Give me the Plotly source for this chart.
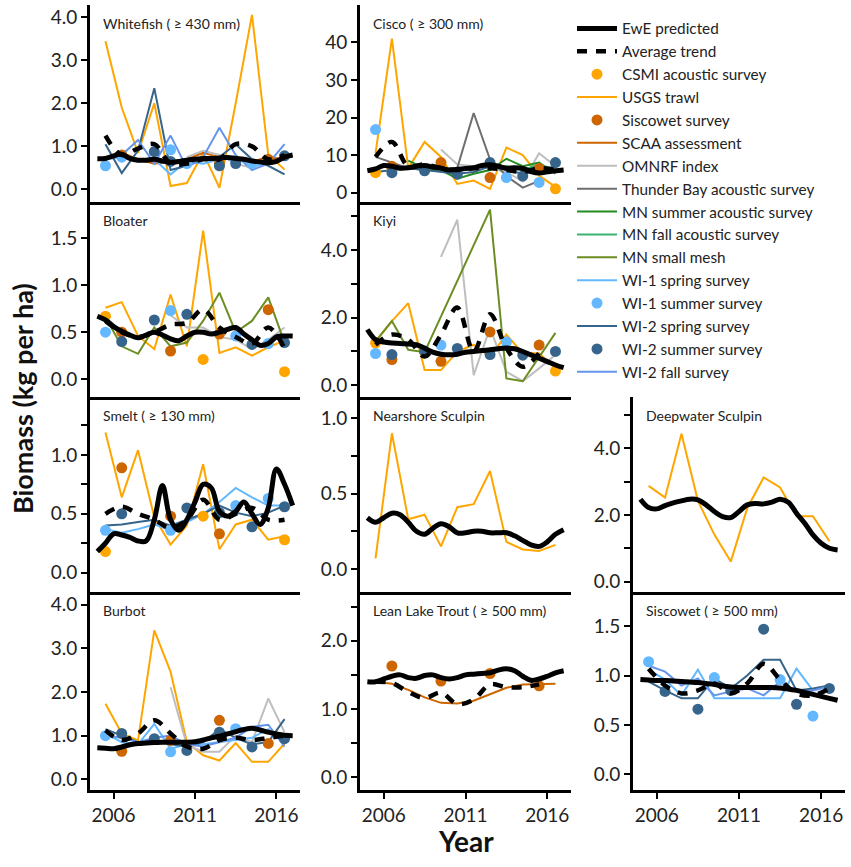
import plotly.graph_objects as go

# survey years (points drawn at mid-year) and EwE half-year time steps
survey_years = [2005, 2006, 2007, 2008, 2009, 2010, 2011, 2012, 2013, 2014, 2015, 2016]
ewe_years = [2005.0, 2005.5, 2006.0, 2006.5, 2007.0, 2007.5, 2008.0, 2008.5, 2009.0,
             2009.5, 2010.0, 2010.5, 2011.0, 2011.5, 2012.0, 2012.5, 2013.0, 2013.5,
             2014.0, 2014.5, 2015.0, 2015.5, 2016.0, 2016.5, 2017.0]
year_ticks = [2006, 2011, 2016]

# Whitefish
wf_usgs = [3.44, 1.9, 0.85, 2.0, 0.08, 0.15, 0.85, 0.04, 2.0, 4.05, 0.81, 0.46]
wf_scaa = [0.7, 0.85, 0.7, 0.6, 0.65, 0.7, 0.85, 0.75, 0.7, 0.65, 0.75, 0.7]
wf_omnrf = [None, None, None, None, None, 0.75, 0.9, 0.8, 0.6, 0.5, 0.65, None]
wf_wi1_spring = [0.7, 0.75, 0.65, 0.7, 0.35, 0.65, 0.6, 0.7, 0.75, 0.55, 0.6, 0.75]
wf_wi2_spring = [1.05, 0.38, 0.9, 2.35, 0.45, 0.55, 0.7, 0.75, 1.05, 0.7, 0.55, 0.35]
wf_wi2_fall = [0.7, 0.8, 1.15, 0.6, 1.25, 0.5, 0.75, 1.43, 0.8, 0.45, 0.6, 1.05]
wf_siscowet = [None, 0.8, None, None, None, None, None, 0.6, None, None, 0.7, None]
wf_wi1_summer = [0.55, 0.75, None, None, 0.92, 0.6, None, None, 0.65, 0.6, None, None]
wf_wi2_summer = [None, None, None, 0.88, 0.65, None, None, 0.55, 0.6, None, None, 0.78]
wf_avg = [1.25, 0.8, 0.95, 1.05, 0.6, 0.6, 0.7, 0.7, 1.05, 1.0, 0.7, 0.8]
wf_ewe = [0.71, 0.72, 0.78, 0.82, 0.72, 0.68, 0.68, 0.70, 0.66, 0.63, 0.65, 0.68, 0.70,
          0.72, 0.72, 0.73, 0.74, 0.72, 0.70, 0.66, 0.64, 0.62, 0.65, 0.75, 0.80]

# Cisco
ci_usgs = [10.5, 41, 6.5, 13.5, 9.5, 2.3, 3.2, 1.0, 12, 10, 4.5, 1.5]
ci_omnrf = [None, None, None, None, 11.5, 7.5, 7.0, 6.5, 5.5, 3.0, 10.5, 7.0]
ci_thunder = [9.5, 8.0, 6.5, 6.0, 6.0, 6.6, 21.2, 8.8, 4.4, 1.3, 3.1, None]
ci_mn_summer = [None, None, 8.5, 6.5, 6.0, 3.7, 5.0, 6.0, 9.0, 7.0, 8.0, 5.0]
ci_mn_fall = [None, None, None, None, None, None, 6.5, 7.5, 7.0, 6.0, 7.5, 6.0]
ci_wi2_spring = [5.5, 6.0, 6.5, 6.0, 5.5, 5.0, 5.5, 7.0, 6.0, 5.0, 6.0, 7.0]
ci_csmi = [5.3, 6.5, None, None, None, None, None, None, None, None, None, 1.0]
ci_siscowet = [None, 7.0, None, None, 8.0, None, None, 4.0, None, None, 6.4, None]
ci_wi1_summer = [16.8, None, None, None, None, None, None, None, 4.0, None, 2.7, None]
ci_wi2_summer = [None, 5.3, None, 5.8, None, 4.9, None, 8.0, None, 4.4, None, 8.0]
ci_avg = [9.5, 13.5, 7.0, 7.5, 6.5, 6.0, 6.5, 6.5, 6.0, 5.5, 6.5, 6.0]
ci_ewe = [5.8, 6.3, 7.2, 7.0, 6.5, 6.6, 7.0, 7.2, 6.8, 6.5, 6.0, 6.2, 6.4, 6.6, 7.2,
          7.4, 7.0, 6.5, 6.6, 6.4, 5.6, 5.2, 5.5, 5.8, 6.0]

# Bloater
bl_usgs = [0.76, 0.82, 0.46, 0.32, 0.9, 0.35, 1.58, 0.28, 0.34, 0.25, 0.34, 0.41]
bl_omnrf = [None, None, None, None, 0.68, 0.55, 0.55, 0.45, 0.42, 0.32, 0.42, 0.55]
bl_mn_mesh = [0.66, 0.35, 0.27, 0.55, 0.35, 0.39, 0.62, 0.92, 0.5, 0.62, 0.87, 0.39]
bl_csmi = [0.67, None, None, None, None, None, 0.21, None, None, None, None, 0.08]
bl_siscowet = [None, 0.5, None, None, 0.3, None, None, 0.48, None, None, 0.74, None]
bl_wi1_summer = [0.5, None, None, None, 0.73, None, None, None, 0.46, None, 0.38, None]
bl_wi2_summer = [None, 0.4, None, 0.63, None, 0.69, None, None, None, 0.37, None, 0.39]
bl_avg = [0.62, 0.5, 0.45, 0.5, 0.58, 0.6, 0.74, 0.55, 0.45, 0.38, 0.55, 0.33]
bl_ewe = [0.67, 0.63, 0.56, 0.51, 0.47, 0.44, 0.47, 0.50, 0.47, 0.43, 0.41, 0.46, 0.50,
          0.50, 0.48, 0.50, 0.53, 0.55, 0.48, 0.42, 0.36, 0.38, 0.45, 0.46, 0.46]

# Kiyi
ki_usgs = [1.3, 1.9, 2.43, 0.45, 0.45, 1.0, 1.2, 0.85, 1.5, 0.95, 0.95, 0.5]
ki_omnrf = [None, None, None, None, 3.8, 4.9, 0.3, 1.7, 0.4, 0.12, 0.5, 0.9]
ki_mn_mesh = [1.3, 1.9, 1.05, 0.98, None, None, None, 5.2, 0.2, 0.12, None, 1.55]
ki_csmi = [1.25, None, None, None, None, None, None, None, None, None, None, 0.42]
ki_siscowet = [None, 0.76, None, None, 0.71, None, None, 1.58, None, None, 1.19, None]
ki_wi1_summer = [0.94, None, None, None, 1.19, None, None, None, 1.28, None, None, None]
ki_wi2_summer = [None, 0.91, None, 1.0, None, 1.09, None, 0.91, None, 0.89, None, 1.0]
ki_avg = [1.2, 1.5, 1.35, 0.85, 1.5, 2.3, 1.0, 2.1, 1.1, 0.55, 0.95, None]
ki_ewe = [1.65, 1.35, 1.28, 1.25, 1.24, 1.22, 1.2, 1.1, 0.98, 0.92, 0.9, 0.92, 0.98,
          1.0, 1.03, 1.05, 1.08, 1.1, 1.08, 1.0, 0.9, 0.8, 0.7, 0.6, 0.52]

# Smelt
sm_usgs = [1.19, 0.64, 1.04, 0.47, 0.24, 0.4, 0.92, 0.2, 0.41, 0.45, 0.28, 0.31]
sm_wi1_spring = [0.37, 0.34, 0.37, 0.41, 0.36, 0.43, 0.5, 0.6, 0.72, 0.64, 0.57, 0.57]
sm_wi2_spring = [0.4, 0.41, 0.43, 0.45, 0.4, 0.45, 0.5, 0.57, 0.51, 0.48, 0.51, 0.57]
sm_csmi = [0.18, None, None, None, None, None, 0.48, None, None, None, None, 0.28]
sm_siscowet = [None, 0.89, None, None, 0.48, None, None, 0.33, None, None, None, None]
sm_wi1_summer = [0.36, None, None, None, 0.36, None, None, None, 0.57, None, 0.63, None]
sm_wi2_summer = [None, 0.5, None, None, None, 0.55, None, 0.51, None, 0.39, None, 0.56]
sm_avg = [0.5, 0.56, 0.5, 0.45, 0.38, 0.45, 0.62, 0.45, 0.5, 0.55, 0.45, 0.45]
sm_ewe = [0.18, 0.25, 0.33, 0.32, 0.30, 0.27, 0.27, 0.45, 0.74, 0.45, 0.36, 0.45, 0.60,
          0.75, 0.72, 0.52, 0.48, 0.52, 0.60, 0.50, 0.41, 0.55, 0.88, 0.75, 0.57]

# Nearshore Sculpin
ns_usgs = [0.07, 0.9, 0.33, 0.36, 0.15, 0.41, 0.43, 0.65, 0.18, 0.13, 0.12, 0.16]
ns_ewe = [0.34, 0.31, 0.34, 0.37, 0.36, 0.31, 0.25, 0.23, 0.27, 0.30, 0.28, 0.24, 0.24,
          0.25, 0.25, 0.24, 0.24, 0.24, 0.22, 0.19, 0.16, 0.15, 0.18, 0.23, 0.26]

# Deepwater Sculpin
dw_usgs = [2.87, 2.52, 4.43, 2.42, 1.41, 0.6, 2.2, 3.12, 2.82, 1.96, 1.96, 1.21]
dw_ewe = [2.47, 2.22, 2.18, 2.28, 2.36, 2.42, 2.47, 2.45, 2.3, 2.1, 1.95, 1.92, 2.1,
          2.3, 2.34, 2.33, 2.38, 2.47, 2.38, 2.05, 1.75, 1.4, 1.15, 1.0, 0.95]

# Burbot
bu_usgs = [1.73, 1.05, 0.89, 3.41, 2.46, 0.85, 0.55, 0.43, 0.83, 0.4, 0.4, 0.82]
bu_omnrf = [None, None, None, None, 2.11, 0.78, 0.63, 0.63, 1.0, 0.85, 1.85, 1.08]
bu_wi1_spring = [1.05, 0.85, 0.8, 1.27, 0.7, 0.8, 0.8, 0.85, 0.9, 0.95, 1.15, 0.85]
bu_wi2_spring = [1.15, 1.0, 0.85, 0.9, 0.8, 0.75, 0.85, 1.15, 0.95, 0.8, 0.85, 1.38]
bu_wi2_fall = [1.0, 0.95, 0.85, 0.95, 1.0, 0.8, 0.75, 0.85, 0.95, 1.2, 1.25, 0.75]
bu_siscowet = [None, 0.64, None, None, 0.89, None, None, 1.35, None, None, 0.82, None]
bu_wi1_summer = [1.0, None, None, None, 0.63, None, None, None, 1.16, None, None, None]
bu_wi2_summer = [None, 1.05, None, 0.93, None, 0.66, None, 1.08, None, 0.74, None, 0.93]
bu_avg = [1.12, 0.9, 1.05, 1.35, 1.05, 0.75, 0.7, 0.9, 0.95, 0.9, 0.95, 1.0]
bu_ewe = [0.72, 0.71, 0.70, 0.74, 0.79, 0.82, 0.83, 0.84, 0.85, 0.85, 0.85, 0.85, 0.86,
          0.90, 0.95, 0.99, 1.04, 1.09, 1.14, 1.17, 1.13, 1.08, 1.04, 1.01, 1.0]

# Lean Lake Trout
lt_scaa = [1.40, 1.37, 1.28, 1.17, 1.09, 1.08, 1.12, 1.22, 1.31, 1.36, 1.37, 1.37]
lt_siscowet = [None, 1.63, None, None, 1.41, None, None, 1.52, None, None, 1.34, None]
lt_avg = [1.40, 1.38, 1.25, 1.16, 1.24, 1.07, 1.14, 1.36, 1.32, 1.32, 1.36, None]
lt_ewe = [1.40, 1.40, 1.44, 1.48, 1.50, 1.46, 1.45, 1.49, 1.50, 1.46, 1.44, 1.46, 1.50,
          1.51, 1.52, 1.53, 1.57, 1.59, 1.56, 1.48, 1.42, 1.44, 1.48, 1.53, 1.56]

# Siscowet
sc_wi1_spring = [1.06, 0.96, 0.8, 1.06, 0.77, 0.77, 0.77, 0.77, 0.77, 1.07, 0.85, 0.9]
sc_wi2_spring = [0.94, 0.85, 0.77, 0.77, 0.97, 0.87, 1.0, 1.16, 1.16, 0.85, 0.87, 0.9]
sc_wi2_fall = [1.1, 1.04, 0.9, 0.97, 0.8, 0.84, 0.87, 0.8, 0.94, 0.84, 0.85, 0.89]
sc_wi1_summer = [1.14, None, None, None, 0.98, None, None, None, 0.96, None, 0.59, None]
sc_wi2_summer = [None, 0.84, None, 0.66, None, 0.85, None, 1.47, None, 0.71, None, 0.87]
sc_avg = [1.07, 0.9, 0.82, 0.85, 0.92, 0.82, 0.92, 1.12, 0.96, 0.82, 0.8, 0.87]
sc_ewe = [0.96, 0.955, 0.95, 0.95, 0.945, 0.94, 0.935, 0.93, 0.92, 0.91, 0.895, 0.885,
          0.88, 0.88, 0.88, 0.88, 0.88, 0.875, 0.865, 0.85, 0.83, 0.81, 0.79, 0.77, 0.75]

# legend order and look of each series
series_order = ["EwE predicted", "Average trend", "CSMI acoustic survey", "USGS trawl",
                "Siscowet survey", "SCAA assessment", "OMNRF index",
                "Thunder Bay acoustic survey", "MN summer acoustic survey",
                "MN fall acoustic survey", "MN small mesh", "WI-1 spring survey",
                "WI-1 summer survey", "WI-2 spring survey", "WI-2 summer survey",
                "WI-2 fall survey"]
styles = {
    "CSMI acoustic survey": ("markers", "#FFA500"),
    "USGS trawl": ("lines", "#FFA500"),
    "Siscowet survey": ("markers", "#CD6600"),
    "SCAA assessment": ("lines", "#CD6600"),
    "OMNRF index": ("lines", "#BEBEBE"),
    "Thunder Bay acoustic survey": ("lines", "#6E6E6E"),
    "MN summer acoustic survey": ("lines", "#228B22"),
    "MN fall acoustic survey": ("lines", "#3CB371"),
    "MN small mesh": ("lines", "#6B8E23"),
    "WI-1 spring survey": ("lines", "#63B8FF"),
    "WI-1 summer survey": ("markers", "#63B8FF"),
    "WI-2 spring survey": ("lines", "#36648B"),
    "WI-2 summer survey": ("markers", "#36648B"),
    "WI-2 fall survey": ("lines", "#6495ED"),
}

panels = [
    dict(title="Whitefish ( \u2265 430 mm)", col=0, row=0, yr=[-0.28, 4.28],
         ticks=[0, 1, 2, 3, 4], labels=["0.0", "1.0", "2.0", "3.0", "4.0"],
         series={"USGS trawl": wf_usgs, "SCAA assessment": wf_scaa, "OMNRF index": wf_omnrf,
                 "WI-1 spring survey": wf_wi1_spring, "WI-2 spring survey": wf_wi2_spring,
                 "WI-2 fall survey": wf_wi2_fall, "Siscowet survey": wf_siscowet,
                 "WI-1 summer survey": wf_wi1_summer, "WI-2 summer survey": wf_wi2_summer},
         avg=wf_avg, ewe=wf_ewe),
    dict(title="Cisco ( \u2265 300 mm)", col=1, row=0, yr=[-2.4, 50],
         ticks=[0, 10, 20, 30, 40], labels=["0", "10", "20", "30", "40"],
         series={"USGS trawl": ci_usgs, "OMNRF index": ci_omnrf,
                 "Thunder Bay acoustic survey": ci_thunder,
                 "MN summer acoustic survey": ci_mn_summer,
                 "MN fall acoustic survey": ci_mn_fall, "WI-2 spring survey": ci_wi2_spring,
                 "CSMI acoustic survey": ci_csmi, "Siscowet survey": ci_siscowet,
                 "WI-1 summer survey": ci_wi1_summer, "WI-2 summer survey": ci_wi2_summer},
         avg=ci_avg, ewe=ci_ewe),
    dict(title="Bloater", col=0, row=1, yr=[-0.19, 1.89],
         ticks=[0, 0.5, 1, 1.5], labels=["0.0", "0.5", "1.0", "1.5"],
         series={"USGS trawl": bl_usgs, "OMNRF index": bl_omnrf, "MN small mesh": bl_mn_mesh,
                 "CSMI acoustic survey": bl_csmi, "Siscowet survey": bl_siscowet,
                 "WI-1 summer survey": bl_wi1_summer, "WI-2 summer survey": bl_wi2_summer},
         avg=bl_avg, ewe=bl_ewe),
    dict(title="Kiyi", col=1, row=1, yr=[-0.35, 5.44],
         ticks=[0, 1, 2, 3, 4, 5], labels=["0.0", "", "2.0", "", "4.0", ""],
         series={"USGS trawl": ki_usgs, "OMNRF index": ki_omnrf, "MN small mesh": ki_mn_mesh,
                 "CSMI acoustic survey": ki_csmi, "Siscowet survey": ki_siscowet,
                 "WI-1 summer survey": ki_wi1_summer, "WI-2 summer survey": ki_wi2_summer},
         avg=ki_avg, ewe=ki_ewe),
    dict(title="Smelt ( \u2265 130 mm)", col=0, row=2, yr=[-0.16, 1.49],
         ticks=[0, 0.25, 0.5, 0.75, 1.0, 1.25], labels=["0.0", "", "0.5", "", "1.0", ""],
         series={"USGS trawl": sm_usgs, "WI-1 spring survey": sm_wi1_spring,
                 "WI-2 spring survey": sm_wi2_spring, "CSMI acoustic survey": sm_csmi,
                 "Siscowet survey": sm_siscowet, "WI-1 summer survey": sm_wi1_summer,
                 "WI-2 summer survey": sm_wi2_summer},
         avg=sm_avg, ewe=sm_ewe),
    dict(title="Nearshore Sculpin", col=1, row=2, yr=[-0.15, 1.14],
         ticks=[0, 0.25, 0.5, 0.75, 1.0], labels=["0.0", "", "0.5", "", "1.0"],
         series={"USGS trawl": ns_usgs}, avg=None, ewe=ns_ewe),
    dict(title="Deepwater Sculpin", col=2, row=2, yr=[-0.3, 5.53],
         ticks=[0, 1, 2, 3, 4, 5], labels=["0.0", "", "2.0", "", "4.0", ""],
         series={"USGS trawl": dw_usgs}, avg=None, ewe=dw_ewe),
    dict(title="Burbot", col=0, row=3, yr=[-0.25, 4.3],
         ticks=[0, 1, 2, 3, 4], labels=["0.0", "1.0", "2.0", "3.0", "4.0"],
         series={"USGS trawl": bu_usgs, "OMNRF index": bu_omnrf,
                 "WI-1 spring survey": bu_wi1_spring, "WI-2 spring survey": bu_wi2_spring,
                 "WI-2 fall survey": bu_wi2_fall, "Siscowet survey": bu_siscowet,
                 "WI-1 summer survey": bu_wi1_summer, "WI-2 summer survey": bu_wi2_summer},
         avg=bu_avg, ewe=bu_ewe),
    dict(title="Lean Lake Trout ( \u2265 500 mm)", col=1, row=3, yr=[-0.19, 2.72],
         ticks=[0, 0.5, 1, 1.5, 2, 2.5], labels=["0.0", "", "1.0", "", "2.0", ""],
         series={"SCAA assessment": lt_scaa, "Siscowet survey": lt_siscowet},
         avg=lt_avg, ewe=lt_ewe),
    dict(title="Siscowet ( \u2265 500 mm)", col=2, row=3, yr=[-0.16, 1.85],
         ticks=[0, 0.5, 1, 1.5], labels=["0.0", "0.5", "1.0", "1.5"],
         series={"WI-1 spring survey": sc_wi1_spring, "WI-2 spring survey": sc_wi2_spring,
                 "WI-2 fall survey": sc_wi2_fall, "WI-1 summer survey": sc_wi1_summer,
                 "WI-2 summer survey": sc_wi2_summer},
         avg=sc_avg, ewe=sc_ewe),
]

W, H = 851, 867
col_px = [(90, 300), (360, 571), (633, 845)]
row_px = [(5, 202), (202, 398), (398, 593), (593, 792)]
FONT = "Lato"
mid_years = [y + 0.5 for y in survey_years]

fig = go.Figure()
shown = set()
layout = dict(width=W, height=H, margin=dict(l=0, r=0, t=0, b=0),
              paper_bgcolor="white", plot_bgcolor="white",
              font=dict(family=FONT, color="#222222"), annotations=[])

for k, p in enumerate(panels, start=1):
    sfx = "" if k == 1 else str(k)
    xa, ya = "x" + sfx, "y" + sfx
    x0, x1 = col_px[p["col"]]
    r0, r1 = row_px[p["row"]]
    bottom = p["row"] == 3
    layout["xaxis" + sfx] = dict(
        domain=[x0 / W, x1 / W], anchor=ya, range=[2004.55, 2017.45],
        showline=True, linecolor="black", linewidth=3, showgrid=False, zeroline=False,
        tickvals=year_ticks, ticks="outside" if bottom else "", ticklen=6, tickwidth=2,
        tickcolor="black", showticklabels=bottom,
        tickfont=dict(family=FONT, size=19, color="#222222"))
    layout["yaxis" + sfx] = dict(
        domain=[1 - r1 / H, 1 - r0 / H], anchor=xa, range=p["yr"],
        showline=True, linecolor="black", linewidth=3, showgrid=False, zeroline=False,
        tickvals=p["ticks"], ticktext=p["labels"], ticks="outside", ticklen=6,
        tickwidth=2, tickcolor="black",
        tickfont=dict(family=FONT, size=19, color="#222222"))
    layout["annotations"].append(dict(
        text=p["title"], xref=xa + " domain", yref=ya + " domain", x=0.05, y=0.905,
        xanchor="left", yanchor="middle", showarrow=False,
        font=dict(family=FONT, size=14, color="#222222")))

    # survey lines first, then points
    for kind in ("lines", "markers"):
        for name, vals in p["series"].items():
            mode, color = styles[name]
            if mode != kind:
                continue
            tr = dict(x=mid_years, y=vals, mode=mode, name=name, xaxis=xa, yaxis=ya,
                      legendrank=series_order.index(name) + 1,
                      showlegend=name not in shown, connectgaps=True)
            if mode == "lines":
                tr["line"] = dict(color=color, width=2)
            else:
                tr["marker"] = dict(color=color, size=11)
            fig.add_trace(go.Scatter(**tr))
            shown.add(name)
    if p["avg"] is not None:
        fig.add_trace(go.Scatter(
            x=mid_years, y=p["avg"], mode="lines", name="Average trend", xaxis=xa, yaxis=ya,
            line=dict(color="black", width=4.5, dash="10px,9px", shape="spline"),
            legendrank=2, showlegend="Average trend" not in shown, connectgaps=True))
        shown.add("Average trend")
    fig.add_trace(go.Scatter(
        x=ewe_years, y=p["ewe"], mode="lines", name="EwE predicted", xaxis=xa, yaxis=ya,
        line=dict(color="black", width=5, shape="spline"),
        legendrank=1, showlegend="EwE predicted" not in shown))
    shown.add("EwE predicted")

layout["annotations"] += [
    dict(text="<b>Biomass (kg per ha)</b>", xref="paper", yref="paper", x=22 / W,
         y=1 - 400 / H, textangle=-90, showarrow=False, xanchor="center", yanchor="middle",
         font=dict(family=FONT, size=27, color="#111111")),
    dict(text="<b>Year</b>", xref="paper", yref="paper", x=466 / W, y=1 - 843 / H,
         showarrow=False, xanchor="center", yanchor="middle",
         font=dict(family=FONT, size=28, color="#111111")),
]
layout["legend"] = dict(x=572 / W, y=1 - 12 / H, xanchor="left", yanchor="top",
                        font=dict(family=FONT, size=15.3, color="#222222"),
                        bgcolor="rgba(0,0,0,0)", itemwidth=40, traceorder="normal")
fig.update_layout(**layout)

# drop the page's default body margin so the figure sits at the window origin
fig.write_html("out.html", config={"displayModeBar": False},
               post_script="document.body.style.margin='0';")
